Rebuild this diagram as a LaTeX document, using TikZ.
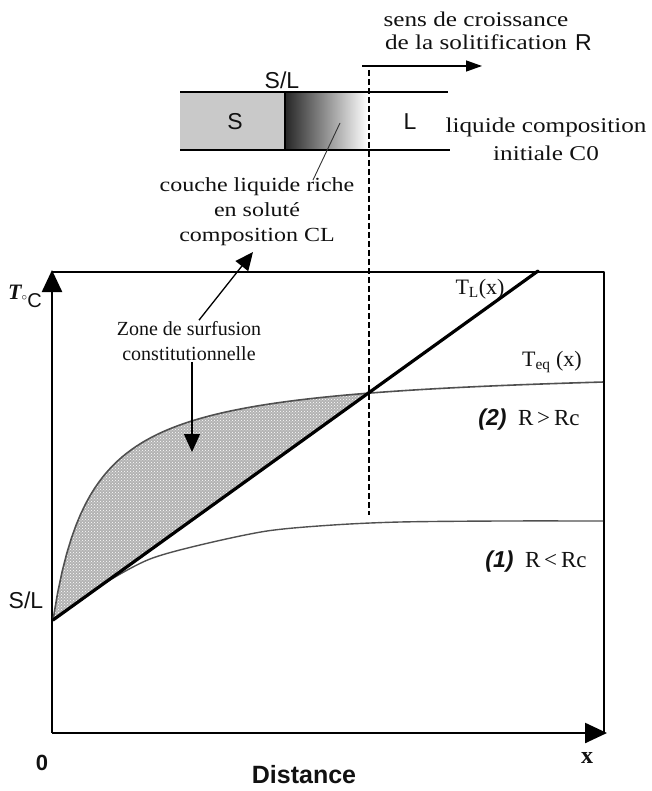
\documentclass[tikz,border=0pt]{standalone}
\usepackage{fontspec}
\setmainfont{Liberation Serif}
\setsansfont{Liberation Sans}
\newfontfamily\wideserif[FakeStretch=1.2]{Liberation Serif}
\usetikzlibrary{arrows.meta,patterns}
\definecolor{ink}{HTML}{111111}
\definecolor{solidgray}{HTML}{C9C9C9}
\definecolor{eqline}{HTML}{505050}
\tikzset{fig/.style={line join=round,>=Triangle},
  txt/.style={font=\wideserif\fontsize{21}{23}\selectfont,align=center,inner sep=1pt,ink},
  sanslab/.style={font=\sffamily\fontsize{23}{26}\selectfont,inner sep=1pt,ink},
  curvelab/.style={font=\fontsize{22}{24}\selectfont,inner sep=1pt,ink},
  bigtip/.style={-{Triangle[length=22pt,width=20pt]}},
  ptr/.style={line width=1.3pt,-{Triangle[length=18pt,width=16pt]}}}

\begin{document}
\begin{tikzpicture}[fig,x=1pt,y=-1pt]
  \useasboundingbox (0,0) rectangle (651,791);
  % the bar: solid, enriched layer, liquid
  \fill[solidgray](180,92)rectangle(285,150);
  \shade[left color=black!85,right color=white](285,92)rectangle(368,150);
  \draw[line width=1.3pt](285,92)--(285,150);
  \draw[line width=1.3pt](180,92)--(448,92);
  \draw[line width=1.3pt](180,150)--(450,150);
  \node[sanslab](sl)at(282,80){S/L};
  \node[sanslab](s)at(235,122){S};
  \node[sanslab](l)at(410,122){L};
  \node[txt,font=\wideserif\fontsize{21}{28}\selectfont](liq)at(546,139){liquide composition\\initiale C0};
  % growth direction
  \node[txt](sens)at(476,31){sens de croissance\\de la solitification};
  \node[sanslab,anchor=west](r)at(574,43){R};
  \coordinate(growA)at(362,66);\coordinate(growB)at(482,66);
  \draw[line width=1.3pt,-{Triangle[length=16pt,width=11pt]}](growA)--(growB);
  % front position
  \coordinate(frontA)at(369,70);\coordinate(frontB)at(369,515);
  \draw[line width=1.2pt,dash pattern=on 6pt off 3pt](frontA)--(frontB);
  % enriched layer label
  \node[txt,font=\wideserif\fontsize{20}{25}\selectfont](couche)at(257,212){couche liquide riche\\en soluté\\composition CL};
  \coordinate(layA)at(340,123);\coordinate(layB)at(313,180);
  \draw[line width=0.9pt,black!80](layA)--(layB);
  % frame and axes
  \coordinate(O)at(52,733);\coordinate(ytop)at(52,270);\coordinate(xend)at(607,733);
  \coordinate(boxTL)at(52,272);\coordinate(boxTR)at(604,272);\coordinate(boxBR)at(604,733);
  \draw[line width=1.3pt](boxTL)--(boxTR)--(boxBR);
  \draw[line width=2.4pt,bigtip](O)--(ytop);
  \draw[line width=2.4pt,bigtip](O)--(xend);
  % undercooled zone: below T_eq (2), above T_L
  \begin{scope}
    \clip(53,620)--(540,271)--(53,271)--cycle;
    \fill[black!30](53,620)plot[domain=53:603,samples=120](\x,{620-(\x-53)/(38.9+\x-53)*254.8})--(603,640)--(53,640)--cycle;
    \fill[pattern=crosshatch dots,pattern color=white](53,620)plot[domain=53:603,samples=120](\x,{620-(\x-53)/(38.9+\x-53)*254.8})--(603,640)--(53,640)--cycle;
  \end{scope}
  % T_eq for case (2) and case (1)
  \draw[eqline,line width=1.6pt]plot[domain=53:603,samples=120](\x,{620-(\x-53)/(38.9+\x-53)*254.8});
  \draw[eqline,line width=1.4pt]plot[smooth]coordinates{(53,620)(80,601)(110,580)(150,559)(200,545)(267,531)(333,525)(400,522)(500,521)(603,521)};
  % liquidus T_L
  \coordinate(start)at(53,620);\coordinate(tlend)at(538,271);
  \draw[line width=3.2pt,line cap=round](start)--(tlend);
  % labels on the plot
  \node[font=\fontsize{22}{22}\selectfont,inner sep=1pt,ink](tc)at(25,296){{\bfseries\itshape T}\raisebox{-8pt}{\fontsize{16}{16}\selectfont$^{\circ}$\sffamily\fontsize{20}{20}\selectfont C}};
  \node[curvelab](tl)at(480,289){T\textsubscript{L}(x)};
  \node[curvelab](teq)at(552,362){T\textsubscript{eq} (x)};
  \node[curvelab,font=\fontsize{23}{24}\selectfont](case2)at(529,420){\textsf{\bfseries\itshape (2)}\ \ R\,>\,Rc};
  \node[curvelab,font=\fontsize{23}{24}\selectfont](case1)at(536,562){\textsf{\bfseries\itshape (1)}\ \ R\,<\,Rc};
  \node[sanslab](slb)at(26,600){S/L};
  \node[font=\sffamily\bfseries\fontsize{22}{22}\selectfont,ink](zero)at(42,763){0};
  \node[font=\sffamily\bfseries\fontsize{25}{25}\selectfont,ink](dist)at(304,775){Distance};
  \node[font=\bfseries\fontsize{24}{24}\selectfont,ink](xlab)at(587,758){x};
  % undercooling zone label and its two pointers
  \node[font=\fontsize{20}{25}\selectfont,align=center,inner sep=1pt,ink](zone)at(189,341){Zone de surfusion\\constitutionnelle};
  \coordinate(zoneup)at(253,252);\coordinate(zonein)at(192,452);
  \draw[ptr]([xshift=10pt]zone.north)--(zoneup);
  \draw[ptr]([xshift=3pt]zone.south)--(zonein);
\end{tikzpicture}
\end{document}
